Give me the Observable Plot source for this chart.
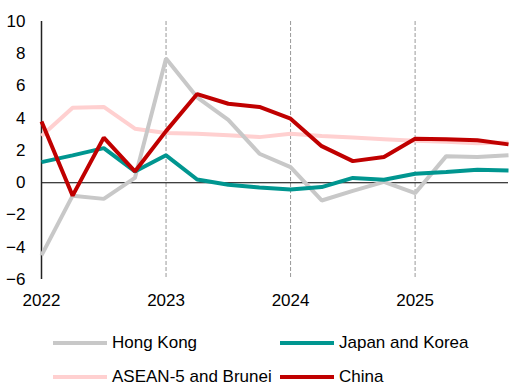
<!DOCTYPE html>
<html><head><meta charset="utf-8">
<script src="https://cdn.jsdelivr.net/npm/d3@7"></script>
<script src="https://cdn.jsdelivr.net/npm/@observablehq/plot@0.6"></script>
<style>
body{margin:0;background:#fff;font-family:"Liberation Sans",Arial,sans-serif;}
#legend{display:grid;grid-template-columns:227px 200px;margin-left:53px;row-gap:14px;font-size:17px;line-height:20px;color:#000;margin-top:15px}
.item{display:flex;align-items:center}
.sw{width:54px;height:4px;margin-right:5px}
</style></head><body>
<div id="chart"></div>
<div id="legend"></div>
<script>
const periods = [2022,2022.25,2022.5,2022.75,2023,2023.25,2023.5,2023.75,2024,2024.25,2024.5,2024.75,2025,2025.25,2025.5,2025.75];
const hongKong = [-4.5,-0.8,-1.0,0.3,7.7,5.3,3.9,1.8,0.97,-1.1,-0.5,0.05,-0.65,1.65,1.6,1.7];
const japanKorea = [1.28,1.7,2.15,0.7,1.7,0.2,-0.12,-0.3,-0.42,-0.27,0.3,0.19,0.56,0.66,0.8,0.76];
const asean = [2.9,4.65,4.7,3.35,3.08,3.04,2.94,2.83,3.04,2.9,2.8,2.7,2.6,2.55,2.45,2.5];
const china = [3.8,-0.8,2.8,0.7,3.2,5.5,4.9,4.7,3.97,2.27,1.34,1.6,2.73,2.7,2.63,2.38];
const seriesNames = ["Hong Kong","Japan and Korea","ASEAN-5 and Brunei","China"];
const colors = ["#c8c8c8","#009690","#ffd0d0","#c00000"];
const yTicks = [-6,-4,-2,0,2,4,6,8,10];
const xTicks = [2022,2023,2024,2025];
const dashYears = [2023,2024,2025];

const values = [hongKong, japanKorea, asean, china];
const data = [];
// draw order: ASEAN, Hong Kong, Japan and Korea, China
[2,0,1,3].forEach(si => periods.forEach((p,i) => data.push({t:p, v:values[si][i], s:seriesNames[si]})));

const chart = Plot.plot({
  width: 509, height: 318,
  marginTop: 21, marginBottom: 39, marginLeft: 41, marginRight: 1,
  style: {fontFamily: '"Liberation Sans", Arial, sans-serif', fontSize: "17px", color: "#000", background: "#fff"},
  x: {domain: [2022, 2025.75], ticks: xTicks, tickFormat: d => String(d), tickSize: 0, tickPadding: 14, label: null},
  y: {domain: [-6, 10], ticks: yTicks, tickSize: 0, tickPadding: 16, label: null},
  color: {domain: seriesNames, range: colors},
  marks: [
    Plot.ruleX(dashYears, {stroke: "#999", strokeWidth: 1, strokeDasharray: "4,2"}),
    Plot.ruleY([0], {stroke: "#000", strokeWidth: 1}),
    Plot.ruleX([2022], {stroke: "#222", strokeWidth: 1.5}),
    Plot.line(data, {x: "t", y: "v", z: "s", stroke: "s", strokeWidth: 4, strokeLinejoin: "miter", strokeLinecap: "butt"})
  ]
});
document.getElementById("chart").appendChild(chart);

const leg = document.getElementById("legend");
seriesNames.forEach((n,i) => {
  const d = document.createElement("div"); d.className = "item";
  const sw = document.createElement("span"); sw.className = "sw"; sw.style.background = colors[i];
  const t = document.createElement("span"); t.textContent = n;
  d.appendChild(sw); d.appendChild(t); leg.appendChild(d);
});
</script>
</body></html>
